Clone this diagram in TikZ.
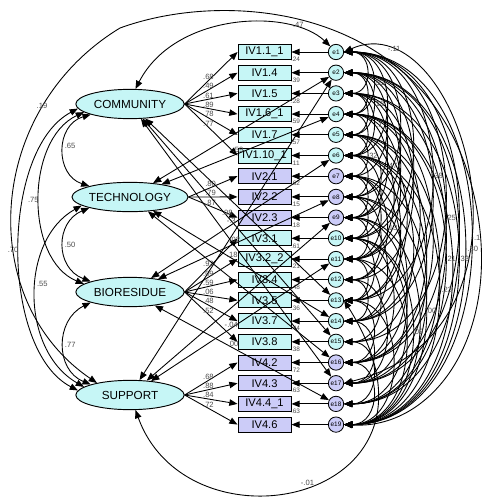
\documentclass[tikz,border=0pt]{standalone}
\usepackage{fontspec}
\setmainfont{Liberation Sans}
\usetikzlibrary{arrows.meta,shapes.geometric}
\definecolor{cyanfill}{RGB}{198,246,246}
\definecolor{lilacfill}{RGB}{204,204,248}
\tikzset{
  latent/.style={ellipse,draw,line width=0.8pt,fill=cyanfill,minimum width=3.25cm,minimum height=0.88cm,inner sep=0pt,font=\fontsize{10}{12}\selectfont},
  indic/.style={draw,line width=0.8pt,minimum width=1.59cm,minimum height=0.45cm,inner sep=0pt,font=\fontsize{9.5}{10}\selectfont},
  errc/.style={circle,draw,line width=0.7pt,minimum size=0.46cm,inner sep=0pt,font=\fontsize{5.5}{5.5}\selectfont},
  loading/.style={-{Triangle[length=7pt,width=5.5pt]},line width=0.75pt},
  covar/.style={{Triangle[length=7pt,width=5.5pt]}-{Triangle[length=7pt,width=5.5pt]},line width=0.75pt},
  est/.style={font=\fontsize{6.5}{7}\selectfont,text=black!70,inner sep=0.5pt},
}
\begin{document}
\begin{tikzpicture}[x=0.03cm,y=-0.03cm]
    \useasboundingbox (0,0) rectangle (488,502);
    % latent factors
    \node[latent] (com) at (130,104) {COMMUNITY};
    \node[latent] (tec) at (130,197) {TECHNOLOGY};
    \node[latent] (bio) at (130,292) {BIORESIDUE};
    \node[latent] (sup) at (130,395) {SUPPORT};
    % indicators and their errors
    \foreach \i/\t/\c/\r in {1/IV1.1\_1/cyanfill/.24,2/IV1.4/cyanfill/.39,3/IV1.5/cyanfill/.28,
        4/IV1.6\_1/cyanfill/.59,5/IV1.7/cyanfill/.57,6/IV1.10\_1/cyanfill/.11,
        7/IV2.1/lilacfill/.62,8/IV2.2/lilacfill/.15,9/IV2.3/lilacfill/.18,
        10/IV3.1/cyanfill/.61,11/IV3.2\_2/cyanfill/.21,12/IV3.4/cyanfill/.48,
        13/IV3.5/cyanfill/.36,14/IV3.7/cyanfill/.44,15/IV3.8/cyanfill/.38,
        16/IV4.2/lilacfill/.72,17/IV4.3/lilacfill/.63,18/IV4.4\_1/lilacfill/.63,19/IV4.6/lilacfill/{}} {
        \pgfmathsetmacro\yy{52+(\i-1)*20.7}
        \node[indic,fill=\c] (v\i) at (264.5,\yy) {\t};
        \node[errc,fill=\c] (e\i) at (336,\yy) {e\i};
        \node[est,font=\fontsize{5.5}{6}\selectfont,anchor=north west] at ([xshift=-1pt,yshift=3pt]v\i.south east) {\r};
        \draw[loading] (e\i) -- (v\i);
    }
    % loadings
    \foreach \i/\l in {1/.68,2/.49,3/.61,4/.89,5/.78,6/.77}
        \draw[loading] (com.east) -- (v\i.west) node[est,pos=0.45,above] {\l};
    \foreach \i/\l in {7/.80,8/.79,9/.87}
        \draw[loading] (tec.east) -- (v\i.west) node[est,pos=0.45,above] {\l};
    \foreach \i/\l in {10/.92,11/.09,12/.59,13/.06,14/.48,15/.52}
        \draw[loading] (bio.east) -- (v\i.west) node[est,pos=0.45,above] {\l};
    \foreach \i/\l in {16/.68,17/.88,18/.84,19/.72}
        \draw[loading] (sup.east) -- (v\i.west) node[est,pos=0.45,above] {\l};
    % factor covariances
    \draw[covar] (com.195) .. controls (55,125) and (55,175) .. (tec.165) node[est,pos=0.5,above right] {.65};
    \draw[covar] (tec.195) .. controls (55,222) and (55,268) .. (bio.165) node[est,pos=0.5,right] {.50};
    \draw[covar] (bio.195) .. controls (55,320) and (55,370) .. (sup.165) node[est,pos=0.5,right] {.77};
    \draw[covar] (com.190) .. controls (25,140) and (25,260) .. (bio.170) node[est,pos=0.5,left] {.75};
    \draw[covar] (tec.190) .. controls (20,240) and (20,350) .. (sup.170) node[est,pos=0.45,right] {.55};
    \draw[covar] (com.185) .. controls (0,150) and (0,350) .. (sup.175) node[est,pos=0.5,left] {.70};
    % long arcs
    \draw[covar] (sup.160) .. controls (-25,300) and (-15,110) .. (120,28)
        .. controls (230,-12) and (420,8) .. (470,180)
        .. controls (510,320) and (440,430) .. (e19.east);
    \node[est] (l19) at (42,106) {.19};
    \draw[covar] (com.70) .. controls (175,12) and (290,8) .. (e1.north west) node[est,pos=0.8,above] {.47};
    \draw[covar] (e1.east) .. controls (460,0) and (560,330) .. (e17.east) node[est,pos=0.15,above] {-.11};
    \draw[covar] (sup.290) .. controls (190,560) and (470,500) .. (e13.east) node[est,pos=0.5,above] {-.01};
    % factor-error covariances
    \foreach \f/\e/\l in {com/13/,com/15/.08,com/17/,tec/2/,tec/4/-.59,tec/14/.18,tec/16/,
        bio/6/-.3,bio/8/.02,bio/18/.00,sup/9/,sup/11/-.04,sup/2/}
        \draw[covar] (\f) -- (e\e) node[est,pos=0.45,above] {\l};
    % error covariances
    \foreach \a/\b in {1/3,1/6,1/8,1/10,1/15,1/17,2/4,2/7,2/9,2/11,2/14,2/18,3/5,3/8,3/10,3/12,3/17,
        4/6,4/11,4/14,4/16,4/19,5/9,5/11,5/13,5/16,5/18,6/8,6/10,6/13,6/15,6/17,7/9,7/11,7/14,7/18,
        8/10,8/12,8/16,9/11,9/14,9/17,9/19,10/13,10/16,10/18,11/13,11/15,11/19,12/14,12/17,
        13/16,13/19,14/17,15/18,16/19} {
        \pgfmathsetmacro\c{0.42*abs(\b-\a)*20.7+12}
        \draw[covar] (e\a.east) .. controls +(\c,0) and +(\c,0) .. (e\b.east);
    }
    \foreach \a/\b/\l in {1/4/.53,2/5/.18,3/6/-.1,5/7/.32,4/9/.47,1/13/.38,2/16/.25,4/18/.21,
        3/19/.33,1/19/-.1,2/19/-.30,6/19/-.23,8/19/.00,10/19/.09,7/12/.13} {
        \pgfmathsetmacro\c{0.42*abs(\b-\a)*20.7+12}
        \draw[covar] (e\a.east) .. controls +(\c,0) and +(\c,0) .. (e\b.east) node[est,pos=0.5,right] {\l};
    }
\end{tikzpicture}
\end{document}
